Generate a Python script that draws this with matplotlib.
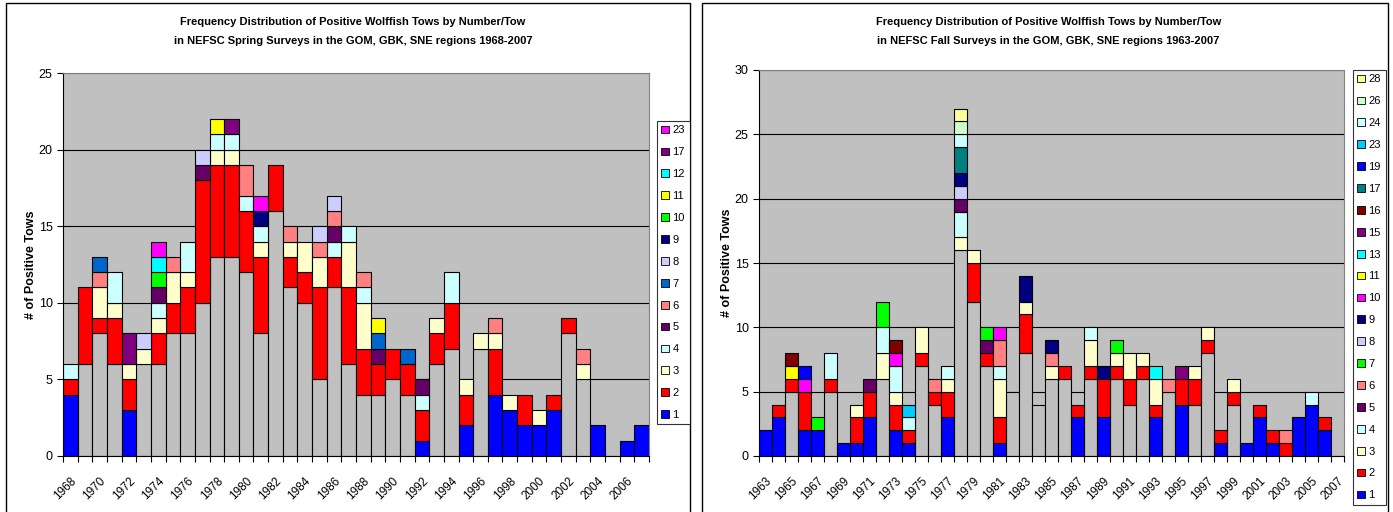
import matplotlib
matplotlib.use('Agg')
import matplotlib.pyplot as plt
import matplotlib.patches as mpatches
import numpy as np

plt.rcParams['font.family'] = ['Liberation Sans', 'DejaVu Sans']

# ---------------- spring survey (1968-2007) ----------------
spring_years = list(range(1968, 2008))
# grey bottom block (no legend entry in the original chart)
spring_grey = [0, 6, 8, 6, 0, 6, 6, 8, 8, 10,
               13, 13, 12, 8, 16, 11, 10, 5, 11, 6,
               4, 4, 5, 4, 0, 6, 7, 0, 7, 0,
               0, 0, 0, 0, 8, 5, 0, 0, 0, 0]
# number of tows by fish/tow, {year: tows}
sp_1 = {1968: 4, 1972: 3, 1992: 1, 1995: 2, 1997: 4, 1998: 3, 1999: 2,
        2000: 2, 2001: 3, 2004: 2, 2006: 1, 2007: 2}
sp_2 = {1968: 1, 1969: 5, 1970: 1, 1971: 3, 1972: 2, 1974: 2, 1975: 2, 1976: 3,
        1977: 8, 1978: 6, 1979: 6, 1980: 4, 1981: 5, 1982: 3, 1983: 2, 1984: 2,
        1985: 6, 1986: 2, 1987: 5, 1988: 3, 1989: 2, 1990: 2, 1991: 2, 1992: 2,
        1993: 2, 1994: 3, 1995: 2, 1997: 3, 1999: 2, 2001: 1, 2002: 1}
sp_3 = {1970: 2, 1971: 1, 1972: 1, 1973: 1, 1974: 1, 1975: 2, 1976: 1, 1978: 1,
        1979: 1, 1981: 1, 1983: 1, 1984: 2, 1985: 2, 1987: 3, 1988: 3, 1993: 1,
        1995: 1, 1996: 1, 1997: 1, 1998: 1, 2000: 1, 2003: 1}
sp_4 = {1968: 1, 1971: 2, 1974: 1, 1976: 2, 1978: 1, 1979: 1, 1980: 1, 1981: 1,
        1986: 1, 1987: 1, 1988: 1, 1992: 1, 1994: 2}
sp_5 = {1974: 1, 1977: 1, 1986: 1, 1989: 1, 1992: 1}
sp_6 = {1970: 1, 1975: 1, 1980: 2, 1983: 1, 1985: 1, 1986: 1, 1988: 1, 1997: 1, 2003: 1}
sp_7 = {1970: 1, 1989: 1, 1991: 1}
sp_8 = {1973: 1, 1977: 1, 1985: 1, 1986: 1}
sp_9 = {1981: 1}
sp_10 = {1974: 1}
sp_11 = {1978: 1, 1989: 1}
sp_12 = {1974: 1}
sp_17 = {1972: 2, 1979: 1}
sp_23 = {1974: 1, 1981: 1}

# ---------------- fall survey (1963-2007) ----------------
fall_years = list(range(1963, 2008))
fall_grey = [0, 0, 5, 0, 0, 5, 0, 0, 0, 6,
             0, 0, 7, 4, 0, 16, 12, 7, 0, 5,
             8, 4, 6, 6, 0, 6, 0, 6, 4, 6,
             0, 5, 0, 4, 8, 0, 4, 0, 0, 0,
             0, 0, 0, 0, 0]
fa_1 = {1963: 2, 1964: 3, 1966: 2, 1967: 2, 1969: 1, 1970: 1, 1971: 3, 1973: 2,
        1974: 1, 1977: 3, 1981: 1, 1987: 3, 1989: 3, 1993: 3, 1995: 4, 1998: 1,
        2000: 1, 2001: 3, 2002: 1, 2004: 3, 2005: 4, 2006: 2}
fa_2 = {1964: 1, 1965: 1, 1966: 3, 1968: 1, 1970: 2, 1971: 2, 1973: 2, 1974: 1,
        1975: 1, 1976: 1, 1977: 2, 1979: 3, 1980: 1, 1981: 2, 1983: 3, 1986: 1,
        1987: 1, 1988: 1, 1989: 3, 1990: 1, 1991: 2, 1992: 1, 1993: 1, 1995: 2,
        1996: 2, 1997: 1, 1998: 1, 1999: 1, 2001: 1, 2002: 1, 2003: 1, 2006: 1}
fa_3 = {1970: 1, 1972: 2, 1973: 1, 1975: 2, 1977: 1, 1978: 1, 1979: 1, 1981: 3,
        1983: 1, 1985: 1, 1988: 2, 1990: 1, 1991: 2, 1992: 1, 1993: 2, 1996: 1,
        1997: 1, 1999: 1}
fa_4 = {1968: 2, 1972: 2, 1973: 2, 1974: 1, 1977: 1, 1978: 2, 1981: 1, 1988: 1, 2005: 1}
fa_5 = {1971: 1, 1978: 1, 1980: 1}
fa_6 = {1976: 1, 1981: 2, 1985: 1, 1994: 1, 2003: 1}
fa_7 = {1967: 1, 1972: 2, 1980: 1, 1990: 1}
fa_8 = {1978: 1}
fa_9 = {1978: 1, 1983: 2, 1985: 1, 1989: 1}
fa_10 = {1966: 1, 1973: 1, 1981: 1}
fa_11 = {1965: 1}
fa_13 = {1993: 1}
fa_15 = {1995: 1}
fa_16 = {1965: 1, 1973: 1}
fa_17 = {1978: 2}
fa_19 = {1966: 1}
fa_23 = {1974: 1}
fa_24 = {1978: 1}
fa_26 = {1978: 1}
fa_28 = {1978: 1}

spring = {1: sp_1, 2: sp_2, 3: sp_3, 4: sp_4, 5: sp_5, 6: sp_6, 7: sp_7, 8: sp_8,
          9: sp_9, 10: sp_10, 11: sp_11, 12: sp_12, 17: sp_17, 23: sp_23}
fall = {1: fa_1, 2: fa_2, 3: fa_3, 4: fa_4, 5: fa_5, 6: fa_6, 7: fa_7, 8: fa_8,
        9: fa_9, 10: fa_10, 11: fa_11, 13: fa_13, 15: fa_15, 16: fa_16, 17: fa_17,
        19: fa_19, 23: fa_23, 24: fa_24, 26: fa_26, 28: fa_28}

COLORS = {1: '#0000FF', 2: '#FF0000', 3: '#FFFFCC', 4: '#CCFFFF', 5: '#660066',
          6: '#FF8080', 8: '#CCCCFF', 9: '#000080', 10: '#FF00FF', 11: '#FFFF00',
          12: '#00FFFF', 13: '#00FFFF', 15: '#800080', 16: '#800000', 17: '#800080',
          19: '#0000FF', 23: '#FF00FF', 24: '#CCFFFF', 26: '#CCFFCC', 28: '#FFFF99'}
SPRING_COLORS = {**COLORS, 7: '#0066CC', 10: '#00FF00'}
FALL_COLORS = {**COLORS, 7: '#00FF00', 17: '#008080', 23: '#00CCFF'}

W, H = 1393, 512
fig = plt.figure(figsize=(W / 100, H / 100), dpi=100)


def px_axes(l, t, r, b):
    return fig.add_axes([l / W, 1 - b / H, (r - l) / W, (b - t) / H])


def draw(box, years, grey, counts, colors, ymax, title, legend_box):
    ax = px_axes(*box)
    n = len(years)
    x = np.arange(n)
    bottom = np.array(grey, dtype=float)
    m = bottom > 0
    ax.bar(x[m], bottom[m], 1.0, color='#C0C0C0', edgecolor='black', lw=0.8, zorder=2)
    handles = []
    for c, d in counts.items():
        vals = np.array([d.get(y, 0) for y in years], dtype=float)
        m = vals > 0
        ax.bar(x[m], vals[m], 1.0, bottom=bottom[m], color=colors[c],
               edgecolor='black', lw=0.8, zorder=2)
        bottom += vals
        handles.append(mpatches.Patch(facecolor=colors[c], edgecolor='black',
                                      lw=0.6, label=str(c)))
    ax.set_facecolor('#C0C0C0')
    ax.set_xlim(-0.5, n - 0.5)
    ax.set_ylim(0, ymax)
    ax.set_yticks(np.arange(0, ymax + 1, 5))
    ax.yaxis.grid(True, color='black', lw=0.8, zorder=1)
    ax.set_axisbelow(True)
    ax.set_xticks(x[::2])
    ax.set_xticklabels([str(y) for y in years[::2]], rotation=45, ha='right',
                       rotation_mode='anchor', fontsize=8.5)
    ax.set_xticks(np.arange(-0.5, n, 1.0), minor=True)
    ax.tick_params(axis='x', which='major', length=0, pad=14)
    ax.tick_params(axis='x', which='minor', length=4, width=0.8)
    ax.tick_params(axis='y', length=4, width=0.8, labelsize=9)
    for s in ('top', 'right'):
        ax.spines[s].set_color('#808080')
        ax.spines[s].set_linewidth(0.8)
    for s in ('left', 'bottom'):
        ax.spines[s].set_linewidth(0.8)
    ax.set_ylabel('# of Positive Tows', fontsize=9, fontweight='bold', labelpad=1)
    cx = (box[0] + box[2]) / 2 / W - 3 / W
    fig.text(cx, 1 - 22 / H, title[0], ha='center', va='center', fontsize=8,
             fontweight='bold')
    fig.text(cx, 1 - 41 / H, title[1], ha='center', va='center', fontsize=8,
             fontweight='bold')
    leg = fig.legend(handles[::-1], [h.get_label() for h in handles[::-1]],
                     loc='upper left', bbox_to_anchor=(legend_box[0] / W, 1 - legend_box[1] / H),
                     bbox_transform=fig.transFigure, fontsize=8, frameon=True,
                     fancybox=False, edgecolor='black', handlelength=0.7,
                     handleheight=0.7, handletextpad=0.3, labelspacing=1.07,
                     borderpad=0.4, borderaxespad=0)
    leg.get_frame().set_linewidth(0.8)
    return ax


draw((63, 73, 649, 456), spring_years, spring_grey, spring, SPRING_COLORS, 25,
     ('Frequency Distribution of Positive Wolffish Tows by Number/Tow',
      'in NEFSC Spring Surveys in the GOM, GBK, SNE regions 1968-2007'),
     (657, 121))
draw((759, 70, 1344, 456), fall_years, fall_grey, fall, FALL_COLORS, 30,
     ('Frequency Distribution of Positive Wolffish Tows by Number/Tow',
      'in NEFSC Fall Surveys in the GOM, GBK, SNE regions 1963-2007'),
     (1353, 70))

# chart-area frames
for l, r in ((6, 690), (702, 1388)):
    fig.patches.append(mpatches.Rectangle((l / W, -0.02), (r - l) / W, 1.02 - 3 / H,
                                          transform=fig.transFigure, fill=False,
                                          edgecolor='black', lw=1.0))

fig.savefig('out.png', dpi=100)
